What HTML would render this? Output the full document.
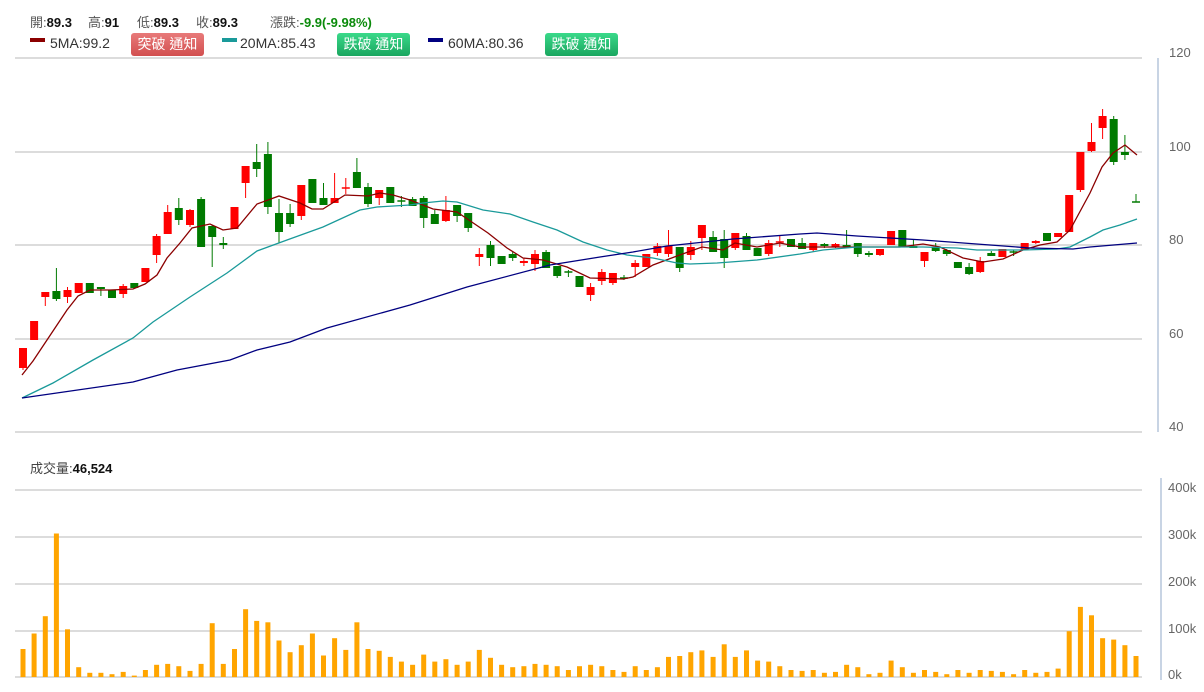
<!DOCTYPE html>
<html><head><meta charset="utf-8"><style>
body{margin:0;width:1204px;height:692px;background:#fff;overflow:hidden;font-family:"Liberation Sans","Noto Sans CJK TC",sans-serif;}
.t{position:absolute;font-size:13px;color:#555;white-space:nowrap}
.t b{color:#111}
.btn{position:absolute;top:33px;height:23px;width:73px;border-radius:3px;color:#fff;font-size:14px;line-height:23px;text-align:center;font-family:"Liberation Sans","Noto Sans CJK TC",sans-serif}
.red{background:linear-gradient(#e87a7a,#d24f4f);}
.grn{background:linear-gradient(#3ad98a,#1aa65f);}
.sw{position:absolute;top:38px;width:15px;height:4px}
</style></head><body>
<div class="t" style="left:30px;top:12px">開:<b>89.3</b></div>
<div class="t" style="left:88px;top:12px">高:<b>91</b></div>
<div class="t" style="left:137px;top:12px">低:<b>89.3</b></div>
<div class="t" style="left:196px;top:12px">收:<b>89.3</b></div>
<div class="t" style="left:270px;top:12px">漲跌:<b style="color:#0a8a0a">-9.9(-9.98%)</b></div>
<div class="sw" style="left:30px;background:#8b0000"></div>
<div class="t" style="left:50px;top:35px;color:#333;font-size:14px">5MA:99.2</div>
<div class="btn red" style="left:131px">突破 通知</div>
<div class="sw" style="left:222px;background:#1a9a9a"></div>
<div class="t" style="left:240px;top:35px;color:#333;font-size:14px">20MA:85.43</div>
<div class="btn grn" style="left:337px">跌破 通知</div>
<div class="sw" style="left:428px;background:#000080"></div>
<div class="t" style="left:448px;top:35px;color:#333;font-size:14px">60MA:80.36</div>
<div class="btn grn" style="left:545px">跌破 通知</div>
<div class="t" style="left:30px;top:458px;color:#444">成交量:<b>46,524</b></div>
<svg id="s" width="1204" height="692" style="position:absolute;left:0;top:0" xmlns="http://www.w3.org/2000/svg"></svg>
<script>
var s=document.getElementById('s'),h='';
[58,152,245,339,432,490,537,584,631,677].forEach(function(y){h+='<line x1="15" x2="1142" y1="'+y+'" y2="'+y+'" stroke="#d0d0d0" stroke-width="1.5"/>';});
h+='<line x1="1158" x2="1158" y1="58" y2="432" stroke="#c8d4e4" stroke-width="2"/>';
h+='<line x1="1161" x2="1161" y1="478" y2="680" stroke="#c8d4e4" stroke-width="2"/>';
[[120,58],[100,152],[80,245],[60,339],[40,432]].forEach(function(a){h+='<text x="1169" y="'+(a[1]-1)+'" font-size="13" fill="#666" font-family="Liberation Sans">'+a[0]+'</text>';});
[['400k',490],['300k',537],['200k',584],['100k',631],['0k',677]].forEach(function(a){h+='<text x="1168" y="'+(a[1]+2)+'" font-size="13" fill="#666" font-family="Liberation Sans">'+a[0]+'</text>';});
var C=[
'r 348 368 348 370','r 321 340','r 292 297 292 306','g 291 299 268 301','r 290 297 287 303','r 283 293','g 283 293','g 287 289 287 296','g 290 298','r 286 294 284 298',
'g 283 288','r 268 282','r 236 255 234 263','r 212 234 205 234','g 208 220 198 225','r 210 225 209 227','g 199 247 197 247','g 226 237 225 267','g 243 245 237 249','r 207 229',
'r 166 183 166 198','g 162 169 144 177','g 154 207 142 214','g 213 232 199 243','g 213 224 204 227','r 185 216 185 220','g 179 203','g 198 205 183 205','r 198 203 173 203','r 188 189 178 194',
'g 172 188 158 188','g 187 204 183 207','r 190 198 190 205','g 187 203','g 201 202 196 207','g 199 206 197 206','g 198 218 196 228','g 214 224 210 224','r 210 221 196 222','g 205 216 205 222',
'g 213 228 213 232','r 254 257 248 266','g 245 258 241 266','g 256 264','g 254 258 252 261','r 261 263 258 266','r 254 264 250 271','g 252 268 250 268','g 266 276 266 278','g 272 273 270 277',
'g 276 287','r 287 295 283 301','r 272 281 269 285','r 273 283 273 285','g 278 279 275 280','r 263 267 260 277','r 254 267','r 246 253 243 256','r 246 254 230 257','g 247 268 247 272',
'r 247 255 241 260','r 225 238 225 250','g 237 252 231 252','g 239 258 230 268','r 233 248 233 250','g 236 250 233 250','g 248 256','r 243 254 240 256','r 242 243 236 247','g 239 247',
'g 243 249 238 249','r 243 250 243 252','g 244 246 243 248','r 244 247 243 248','g 245 247 230 247','g 243 254 243 257','g 253 255 251 257','r 249 255 249 256','r 231 245','g 230 247',
'g 246 248 240 248','r 252 261 252 267','g 247 251 243 252','g 250 254 249 256','g 262 268','g 267 274 263 275','r 261 272 257 273','g 253 256 251 256','r 249 257','g 252 253 250 256',
'r 243 250','r 241 243 240 244','g 233 241','r 233 237','r 195 232','r 152 190 152 192','r 142 151 123 152','r 116 128 109 139','g 119 162 116 165','g 152 155 135 160','g 202 202 194 202'];
var V=[60,93,130,307,102,21,9,9,6,11,3,15,26,28,23,13,28,115,28,60,145,120,117,78,53,68,93,46,83,58,117,60,56,43,33,26,48,33,38,26,33,58,41,26,21,23,28,26,23,15,23,26,23,
15,11,23,15,21,43,45,53,57,43,70,43,57,35,33,23,15,13,15,9,11,26,21,6,9,35,21,9,15,11,6,15,9,15,13,11,6,15,9,11,18,98,150,132,83,80,68,45];
function X(i){return 23+i*11.13;}
V.forEach(function(v,i){var hh=v*0.4675;h+='<rect x="'+(X(i)-2.5).toFixed(1)+'" y="'+(677-hh).toFixed(1)+'" width="5" height="'+hh.toFixed(1)+'" fill="#ffa500"/>';});
C.forEach(function(c,i){var a=c.split(' '),t=+a[1],b=+a[2],wt=a[3]?+a[3]:t,wb=a[4]?+a[4]:b,col=a[0]=='r'?'#ff0000':'#007a00',x=X(i);
if(b-t<1.5){t-=0.75;b=t+1.5;}
h+='<line x1="'+x.toFixed(1)+'" x2="'+x.toFixed(1)+'" y1="'+wt+'" y2="'+wb+'" stroke="'+col+'" stroke-width="1"/>';
h+='<rect x="'+(x-4).toFixed(1)+'" y="'+t+'" width="8" height="'+(b-t)+'" fill="'+col+'"/>';});
function P(pts,col){h+='<polyline fill="none" stroke="'+col+'" stroke-width="1.3" points="'+pts+'"/>';}
P('22,375 33,361 45,343 67,310 78,296 90,290 110,290 133,289 145,284 157,275 167,258 180,243 192,228 210,224 223,230 237,228 257,204 279,196 300,203 312,209 323,209 345,195 368,196 380,193 393,195 410,200 433,209 457,212 488,233 507,248 523,258 543,260 567,267 590,278 623,279 633,277 653,265 677,256 702,247 723,250 735,243 757,247 780,243 800,247 857,247 900,247 923,244 940,247 963,258 983,262 1003,259 1023,250 1040,245 1057,242 1070,230 1090,193 1102,167 1113,153 1125,145 1137,155','#8b0000');
P('22,398 53,383 93,360 133,338 153,322 190,297 227,273 257,251 287,240 323,227 360,210 377,207 410,205 423,203 443,201 457,202 483,210 510,214 533,222 557,230 583,242 607,250 627,255 653,258 677,263 690,264 717,263 757,260 800,254 823,250 857,247 923,247 957,248 977,250 1023,250 1057,249 1070,247 1090,237 1103,230 1120,225 1137,219','#1a9a9a');
P('22,398 133,382 177,370 230,360 257,350 290,342 327,328 410,305 467,287 550,265 600,257 633,252 667,246 733,239 800,234 817,233 857,236 923,240 990,245 1030,248 1073,249 1090,247 1137,243','#000080');
s.innerHTML=h;
</script>
</body></html>
